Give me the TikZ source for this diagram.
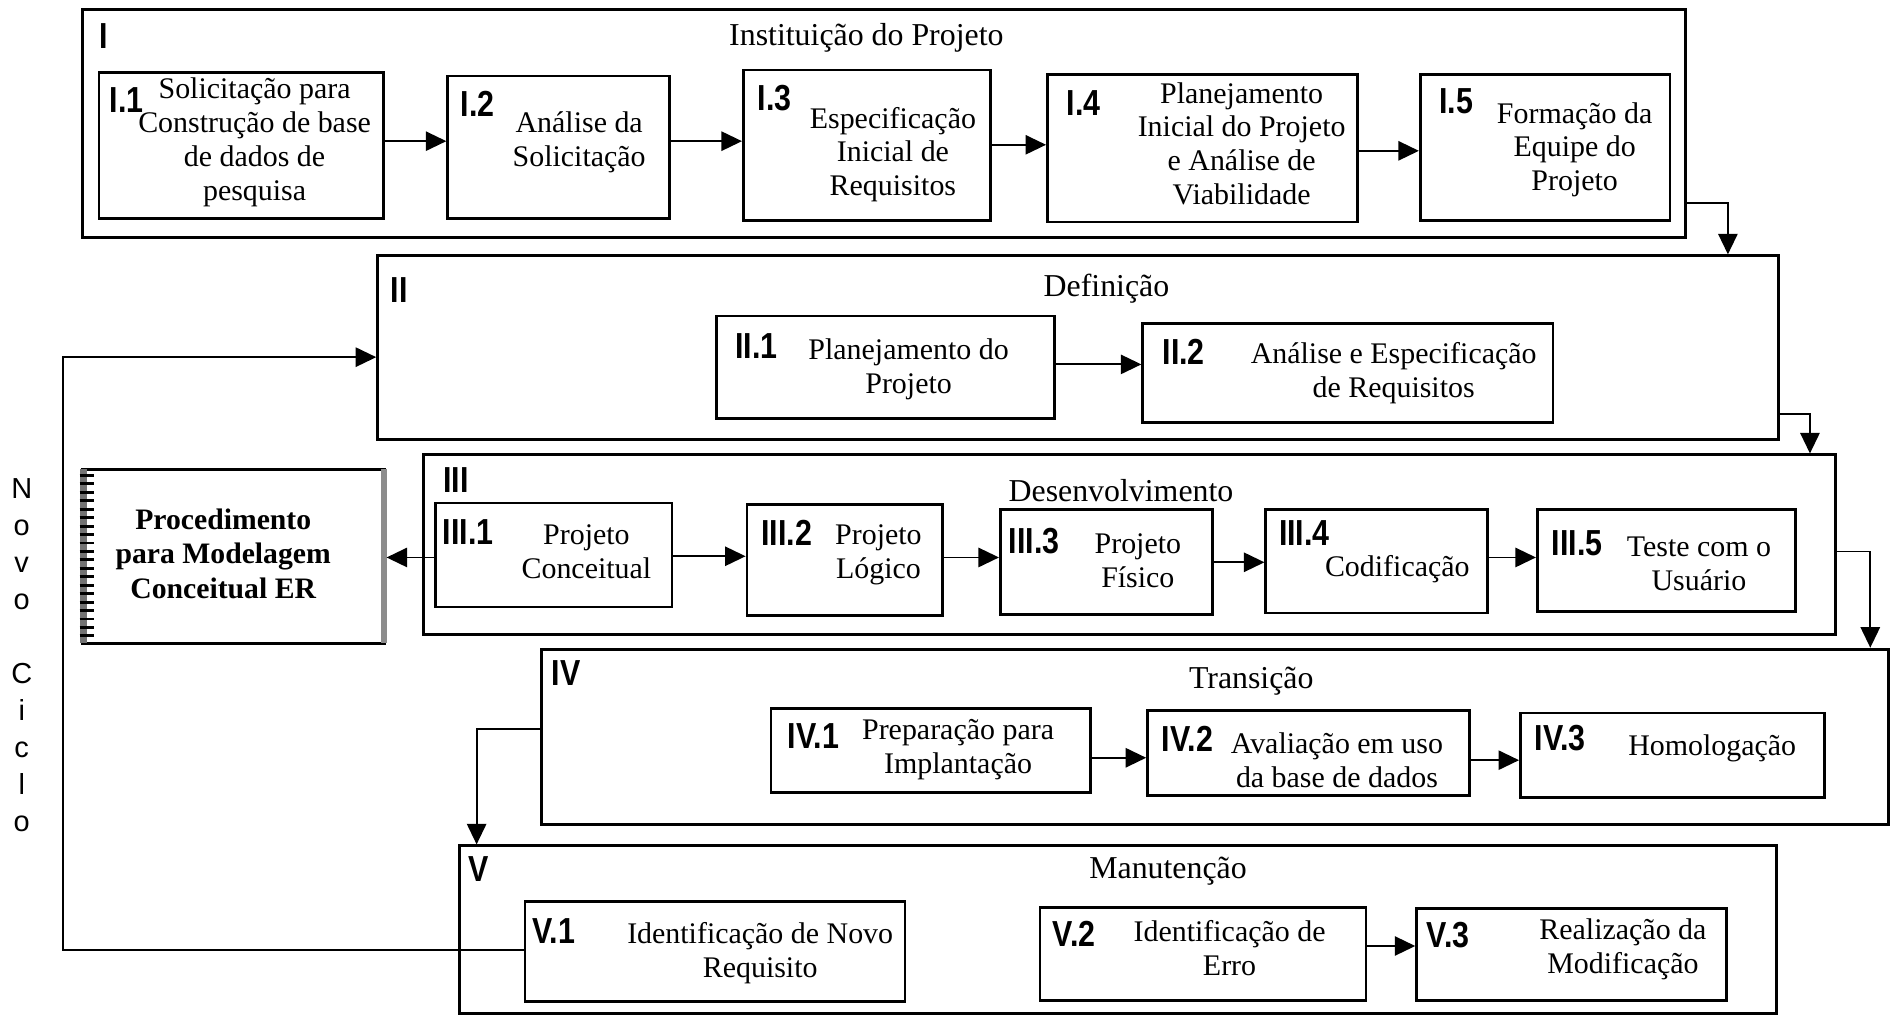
\documentclass[tikz,border=0pt]{standalone}
\usepackage{fontspec}
\setmainfont{Liberation Serif}
\newfontfamily\lblfont[FakeStretch=0.84]{Liberation Sans}
\newfontfamily\novofont{Liberation Sans}
\usetikzlibrary{arrows.meta,fit}
\tikzset{
  phase/.style={draw, line width=1.2pt, inner sep=0pt},
  sub/.style={draw, line width=1.1pt, inner sep=0pt},
  txt/.style={align=center, font=\fontsize{12.4}{14}\selectfont, inner sep=0pt},
  boldtxt/.style={align=center, font=\bfseries\fontsize{12.3}{14.2}\selectfont, inner sep=0pt},
  ttl/.style={anchor=base, font=\fontsize{13.2}{15}\selectfont, inner sep=0pt},
  lbl/.style={font=\lblfont\bfseries\fontsize{15}{17}\selectfont, inner sep=0pt},
  arr/.style={line width=0.75pt, -{Triangle[length=8.5pt,width=8pt]}},
  novo/.style={align=center, font=\novofont\fontsize{12}{15.35}\selectfont, inner sep=0pt},
}
\begin{document}
\begin{tikzpicture}[x=0.5pt,y=-0.5pt]
\useasboundingbox (0,0) rectangle (1568,844);

% ---------- Phase I ----------
\node[phase, fit={(68,8)(1397,197)}] (PI) {};
\node[lbl] (PIl) at (86,30) {I};
\node[ttl] (PIt) at (718,38) {Instituição do Projeto};
\node[sub, fit={(82,60)(318,181)}] (I1) {};
\node[sub, fit={(371,63)(555,181)}] (I2) {};
\node[sub, fit={(616,58)(821,183)}] (I3) {};
\node[sub, fit={(868,62)(1125,184)}] (I4) {};
\node[sub, fit={(1177,62)(1384,183)}] (I5) {};
\node[lbl] (I1l) at (105,83) {I.1};
\node[lbl] (I2l) at (396,86) {I.2};
\node[lbl] (I3l) at (642,81) {I.3};
\node[lbl] (I4l) at (898,85) {I.4};
\node[lbl] (I5l) at (1207,84) {I.5};
\node[txt] (I1t) at (211,118) {Solicitação para\\Construção de base\\de dados de\\pesquisa};
\node[txt] (I2t) at (480,118) {Análise da\\Solicitação};
\node[txt] (I3t) at (740,128) {Especificação\\Inicial de\\Requisitos};
\node[txt] (I4t) at (1029,119) {Planejamento\\Inicial do Projeto\\e Análise de\\Viabilidade};
\node[txt] (I5t) at (1305,124) {Formação da\\Equipe do\\Projeto};

% ---------- Phase II ----------
\node[phase, fit={(313,212)(1474,364)}] (PII) {};
\node[lbl] (PIIl) at (331,240) {II};
\node[ttl] (PIIt) at (917,246) {Definição};
\node[sub, fit={(594,262)(874,347)}] (II1) {};
\node[sub, fit={(947,268)(1287,350)}] (II2) {};
\node[lbl] (II1l) at (627,287) {II.1};
\node[lbl] (II2l) at (981,292) {II.2};
\node[txt] (II1t) at (753,306) {Planejamento do\\Projeto};
\node[txt] (II2t) at (1155,309) {Análise e Especificação\\de Requisitos};

% ---------- Phase III ----------
\node[phase, fit={(351,377)(1521,526)}] (PIII) {};
\node[lbl] (PIIIl) at (378,398) {III};
\node[ttl] (PIIIt) at (929,416) {Desenvolvimento};
\node[sub, fit={(361,417)(557,503)}] (III1) {};
\node[sub, fit={(619,418)(781,510)}] (III2) {};
\node[sub, fit={(829,422)(1005,509)}] (III3) {};
\node[sub, fit={(1049,422)(1233,508)}] (III4) {};
\node[sub, fit={(1274,422)(1488,507)}] (III5) {};
\node[lbl] (III1l) at (388,441) {III.1};
\node[lbl] (III2l) at (652,442) {III.2};
\node[lbl] (III3l) at (857,448) {III.3};
\node[lbl] (III4l) at (1081,442) {III.4};
\node[lbl] (III5l) at (1307,450) {III.5};
\node[txt] (III1t) at (486,457) {Projeto\\Conceitual};
\node[txt] (III2t) at (728,460) {Projeto\\Lógico};
\node[txt] (III3t) at (943,465) {Projeto\\Físico};
\node[txt] (III4t) at (1158,472) {Codificação};
\node[txt] (III5t) at (1408,467) {Teste com o\\Usuário};

% ---------- Procedimento ----------
\node[inner sep=0pt, fit={(67,389)(320,533)}] (Proc) {};
\draw[line width=1.2pt] (67,389) -- (320,389) (67,533) -- (320,533);
\fill[black!55] (66,389) rectangle (72,533);
\fill[black!45] (316,389) rectangle (321,533);
\foreach \yy in {394,401,...,530} \draw[line width=1.2pt] (66,\yy) -- (78,\yy);
\node[boldtxt] (Proct) at (185,459) {Procedimento\\para Modelagem\\Conceitual ER};

% ---------- Phase IV ----------
\node[phase, fit={(449,538)(1565,683)}] (PIV) {};
\node[lbl] (PIVl) at (469,558) {IV};
\node[ttl] (PIVt) at (1037,571) {Transição};
\node[sub, fit={(639,587)(904,657)}] (IV1) {};
\node[sub, fit={(951,589)(1218,659)}] (IV2) {};
\node[sub, fit={(1260,591)(1512,661)}] (IV3) {};
\node[lbl] (IV1l) at (674,610) {IV.1};
\node[lbl] (IV2l) at (984,612) {IV.2};
\node[lbl] (IV3l) at (1293,612) {IV.3};
\node[txt] (IV1t) at (794,621) {Preparação para\\Implantação};
\node[txt] (IV2t) at (1108,630) {Avaliação em uso\\da base de dados};
\node[txt] (IV3t) at (1419,620) {Homologação};

% ---------- Phase V ----------
\node[phase, fit={(381,701)(1472,840)}] (PV) {};
\node[lbl] (PVl) at (397,720) {V};
\node[ttl] (PVt) at (968,728) {Manutenção};
\node[sub, fit={(435,747)(750,830)}] (V1) {};
\node[sub, fit={(862,752)(1132,829)}] (V2) {};
\node[sub, fit={(1174,753)(1431,829)}] (V3) {};
\node[lbl] (V1l) at (459,772) {V.1};
\node[lbl] (V2l) at (890,774) {V.2};
\node[lbl] (V3l) at (1200,775) {V.3};
\node[txt] (V1t) at (630,790) {Identificação de Novo\\Requisito};
\node[txt] (V2t) at (1019,786) {Identificação de\\Erro};
\node[txt] (V3t) at (1345,787) {Realização da\\Modificação};

% ---------- Novo Ciclo ----------
\node[novo, anchor=north] (novo) at (18,396) {N\\o\\v\\o\\[15.35pt]C\\i\\c\\l\\o};

% ---------- connectors inside phases ----------
\draw[arr] (I1.east |- 0,117) -- (I2.west |- 0,117);
\draw[arr] (I2.east |- 0,117) -- (I3.west |- 0,117);
\draw[arr] (I3.east |- 0,120) -- (I4.west |- 0,120);
\draw[arr] (I4.east |- 0,125) -- (I5.west |- 0,125);
\draw[arr] (II1.east |- 0,302) -- (II2.west |- 0,302);
\draw[arr] (III1.east |- 0,461) -- (III2.west |- 0,461);
\draw[arr] (III2.east |- 0,462) -- (III3.west |- 0,462);
\draw[arr] (III3.east |- 0,466) -- (III4.west |- 0,466);
\draw[arr] (III4.east |- 0,462) -- (III5.west |- 0,462);
\draw[arr] (IV1.east |- 0,628) -- (IV2.west |- 0,628);
\draw[arr] (IV2.east |- 0,630) -- (IV3.west |- 0,630);
\draw[arr] (V2.east |- 0,784) -- (V3.west |- 0,784);
\draw[arr] (III1.west |- 0,462) -- (Proc.east |- 0,462);

% ---------- connectors between phases ----------
\draw[arr] (PI.east |- 0,168) -| (1432,0 |- PII.north);
\draw[arr] (PII.east |- 0,343) -| (1500,0 |- PIII.north);
\draw[arr] (PIII.east |- 0,457) -| (1550,0 |- PIV.north);
\draw[arr] (PIV.west |- 0,604) -| (395,0 |- PV.north);
\coordinate (nc) at (52,296);
\draw[arr] (V1.west |- 0,787) -| (nc) -- (PII.west |- nc);
\end{tikzpicture}
\end{document}
